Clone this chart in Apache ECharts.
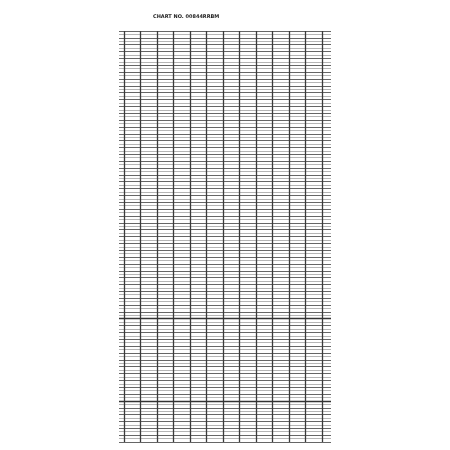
<!DOCTYPE html>
<html><head><meta charset="utf-8">
<script src="https://cdn.jsdelivr.net/npm/echarts@6/dist/echarts.min.js"></script>
<style>html,body{margin:0;background:#fff}#c{width:450px;height:450px}</style>
</head><body><div id="c"></div>
<script>
var chartTitle = "CHART NO. 00844RRBM";
var rowCount = 120;          // horizontal divisions
var columnCount = 12;        // vertical divisions
var heavyRows = [84, 108];   // darker horizontal lines

var myChart = echarts.init(document.getElementById("c"));
var option = {
    animation: false,
    title: {
        text: chartTitle, left: 148, top: 9,
        textStyle: { fontSize: 5, fontWeight: 'bold', color: '#222', fontFamily: 'DejaVu Sans' }
    },
    grid: [
        { left: 119, width: 212, top: 31, height: 411 },
        { left: 124, width: 198, top: 31, height: 411 }
    ],
    xAxis: [
        { gridIndex: 0, type: 'value', min: 0, max: 1, show: false },
        {
            gridIndex: 1, type: 'value', min: 0, max: columnCount, interval: 1,
            axisLine: { show: false }, axisTick: { show: false }, axisLabel: { show: false },
            splitLine: { show: true, lineStyle: { color: '#3a3a3a', width: 1.3 } }
        }
    ],
    yAxis: [
        {
            gridIndex: 0, type: 'value', min: 0, max: rowCount, interval: 1, inverse: true,
            axisLine: { show: false }, axisTick: { show: false }, axisLabel: { show: false },
            splitLine: { show: true, lineStyle: { color: ['#666', '#b5b5b5'], width: 1 } }
        },
        { gridIndex: 1, type: 'value', min: 0, max: rowCount, show: false, inverse: true }
    ],
    series: [{
        type: 'line', xAxisIndex: 0, yAxisIndex: 0, data: [],
        markLine: {
            symbol: 'none', silent: true, label: { show: false },
            lineStyle: { color: '#333', width: 1.3, type: 'solid' },
            data: heavyRows.map(function (r) { return { yAxis: r }; })
        }
    }]
};
myChart.setOption(option);
</script></body></html>
